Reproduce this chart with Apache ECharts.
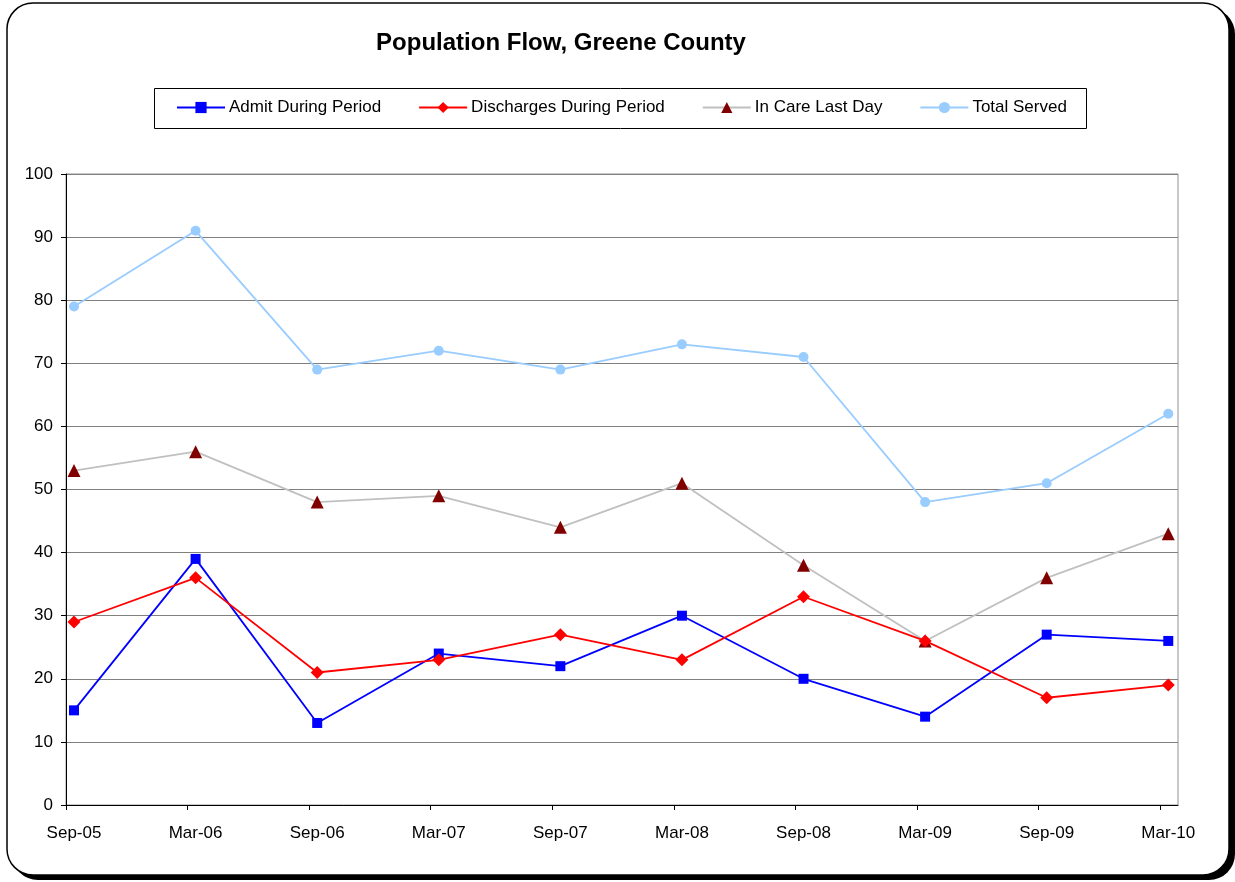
<!DOCTYPE html>
<html>
<head>
<meta charset="utf-8">
<script src="https://cdn.jsdelivr.net/npm/echarts@6/dist/echarts.min.js"></script>
<style>
    html, body { margin: 0; padding: 0; background: #fff; }
    #flow { width: 1235px; height: 882px; }
</style>
</head>
<body>
<div id="flow"></div>
<script>
    // periods on the x axis
    var periods = ['Sep-05', 'Mar-06', 'Sep-06', 'Mar-07', 'Sep-07', 'Mar-08', 'Sep-08', 'Mar-09', 'Sep-09', 'Mar-10'];
    var admitData = [15, 39, 13, 24, 22, 30, 20, 14, 27, 26];
    var dischargeData = [29, 36, 21, 23, 27, 23, 33, 26, 17, 19];
    var inCareData = [53, 56, 48, 49, 44, 51, 38, 26, 36, 43];
    var servedData = [79, 91, 69, 72, 69, 73, 71, 48, 51, 62];

    function toPoints(arr) {
        return arr.map(function (v, i) { return [i, v]; });
    }

    var idx = periods.map(function (p, i) { return i; });
    var tickPos = periods.map(function (p, i) { return i - 0.066; });

    var myChart = echarts.init(document.getElementById('flow'));
    var option = {
        animation: false,
        textStyle: { fontFamily: 'Liberation Sans, Arial, sans-serif', color: '#000' },
        graphic: [
            {   // frame shadow
                type: 'rect', z: -10, silent: true,
                shape: { x: 12, y: 8, width: 1223, height: 872, r: 26 },
                style: { fill: '#000' }
            },
            {   // frame
                type: 'rect', z: -9, silent: true,
                shape: { x: 7, y: 3, width: 1222, height: 872, r: 26 },
                style: { fill: '#fff', stroke: '#000', lineWidth: 1.5 }
            },
            {   // legend box
                type: 'rect', z: -8, silent: true,
                shape: { x: 154.5, y: 88.5, width: 932, height: 40 },
                style: { fill: '#fff', stroke: '#000', lineWidth: 1 }
            }
        ],
        title: {
            text: 'Population Flow, Greene County',
            left: 556, top: 26, textAlign: 'center',
            textStyle: { fontSize: 24, fontWeight: 'bold', color: '#000' }
        },
        legend: {
            left: 171, top: 94,
            itemWidth: 48, itemHeight: 14, itemGap: 37,
            textStyle: { fontSize: 17, color: '#000', padding: [0, 0, 0, -1] },
            data: ['Admit During Period', 'Discharges During Period', 'In Care Last Day', 'Total Served']
        },
        grid: {
            left: 66, right: 57, top: 174, bottom: 77,
            show: true, borderColor: '#909090', borderWidth: 1,
            containLabel: false
        },
        xAxis: {
            type: 'value',
            min: -0.066, max: 9.08,
            axisLine: { onZero: false, lineStyle: { color: '#000', width: 1 } },
            axisTick: { show: true, length: 5, lineStyle: { color: '#000' }, customValues: tickPos },
            axisLabel: {
                fontSize: 17, color: '#000', margin: 20,
                customValues: idx,
                formatter: function (v) { return periods[Math.round(v)]; }
            },
            splitLine: { show: false }
        },
        yAxis: {
            type: 'value',
            min: 0, max: 100, interval: 10,
            axisLine: { show: true, onZero: false, lineStyle: { color: '#000', width: 1 } },
            axisTick: { show: true, length: 5, lineStyle: { color: '#000' } },
            axisLabel: { fontSize: 17, color: '#000', margin: 13 },
            splitLine: { lineStyle: { color: '#808080', width: 1 } }
        },
        series: [
            {
                name: 'Admit During Period', type: 'line',
                symbol: 'rect', symbolSize: 10,
                itemStyle: { color: '#0000ff' },
                lineStyle: { color: '#0000ff', width: 1.8 },
                data: toPoints(admitData), z: 5
            },
            {
                name: 'Discharges During Period', type: 'line',
                symbol: 'diamond', symbolSize: 13,
                itemStyle: { color: '#ff0000' },
                lineStyle: { color: '#ff0000', width: 1.8 },
                data: toPoints(dischargeData), z: 6
            },
            {
                name: 'In Care Last Day', type: 'line',
                symbol: 'triangle', symbolSize: 13,
                itemStyle: { color: '#800000' },
                lineStyle: { color: '#c0c0c0', width: 1.8 },
                data: toPoints(inCareData), z: 4
            },
            {
                name: 'Total Served', type: 'line',
                symbol: 'circle', symbolSize: 10,
                itemStyle: { color: '#99ccff' },
                lineStyle: { color: '#99ccff', width: 1.8 },
                data: toPoints(servedData), z: 3
            }
        ]
    };
    myChart.setOption(option);
</script>
</body>
</html>
